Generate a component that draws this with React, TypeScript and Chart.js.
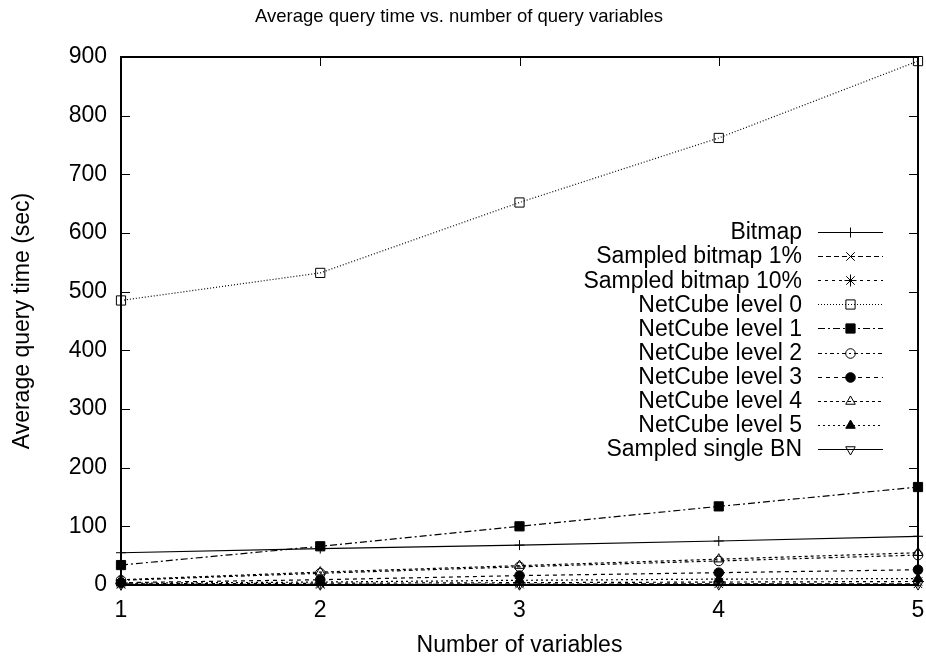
import React, { useEffect, useRef } from 'react';
import { Chart, registerables } from 'chart.js';

Chart.register(...registerables);

// ---- data ----
const xValues = [1, 2, 3, 4, 5];
const xTickLabels = ['1', '2', '3', '4', '5'];
const yTickLabels = ['0', '100', '200', '300', '400', '500', '600', '700', '800', '900'];

const seriesNames = [
  'Bitmap',
  'Sampled bitmap 1%',
  'Sampled bitmap 10%',
  'NetCube level 0',
  'NetCube level 1',
  'NetCube level 2',
  'NetCube level 3',
  'NetCube level 4',
  'NetCube level 5',
  'Sampled single BN',
];

const bitmap = [55, 62, 68, 75, 83];
const sampledBitmap1 = [1, 1, 1.5, 2, 2];
const sampledBitmap10 = [2, 3, 4, 5, 6];
const netCube0 = [485, 532, 652, 762, 893];
const netCube1 = [34, 66, 100, 134, 167];
const netCube2 = [8, 20, 31, 41, 51];
const netCube3 = [4, 9, 16, 21, 26];
const netCube4 = [9, 22, 33, 44, 55];
const netCube5 = [3, 5, 8, 10, 11];
const sampledSingleBN = [0.3, 0.4, 0.5, 0.6, 0.7];

const seriesValues = [
  bitmap, sampledBitmap1, sampledBitmap10, netCube0, netCube1,
  netCube2, netCube3, netCube4, netCube5, sampledSingleBN,
];

// ---- styles ----
const FONT = '"Liberation Sans", Arial, Helvetica, sans-serif';
const FS = 23;
const NONE = 'rgba(0,0,0,0)';

type St = { dash: number[]; point: string; r: number; fill: string; rot?: number };
const styles: St[] = [
  { dash: [], point: 'cross', r: 5, fill: NONE },
  { dash: [5, 3], point: 'crossRot', r: 6, fill: NONE },
  { dash: [3, 4], point: 'star', r: 6, fill: NONE },
  { dash: [1, 2], point: 'rect', r: 6.5, fill: NONE },
  { dash: [7, 3, 2, 3], point: 'rect', r: 6.5, fill: '#000' },
  { dash: [4, 3, 2, 3], point: 'circle', r: 4.8, fill: NONE },
  { dash: [4, 4], point: 'circle', r: 4.8, fill: '#000' },
  { dash: [3, 3], point: 'triangle', r: 5.5, fill: NONE },
  { dash: [2, 3], point: 'triangle', r: 5.5, fill: '#000' },
  { dash: [], point: 'triangle', r: 5.5, fill: NONE, rot: 180 },
];

function drawMarker(ctx: CanvasRenderingContext2D, st: St, x: number, y: number) {
  const r = st.r;
  ctx.save();
  ctx.setLineDash([]);
  ctx.lineWidth = 1;
  ctx.strokeStyle = '#000';
  ctx.fillStyle = st.fill;
  ctx.beginPath();
  let rad = ((st.rot || 0) * Math.PI) / 180;
  switch (st.point) {
    case 'cross':
      ctx.moveTo(x - r, y); ctx.lineTo(x + r, y);
      ctx.moveTo(x, y - r); ctx.lineTo(x, y + r);
      ctx.stroke();
      break;
    case 'crossRot': {
      const d = r * Math.SQRT1_2;
      ctx.moveTo(x - d, y - d); ctx.lineTo(x + d, y + d);
      ctx.moveTo(x - d, y + d); ctx.lineTo(x + d, y - d);
      ctx.stroke();
      break;
    }
    case 'star': {
      const d = r * Math.SQRT1_2;
      ctx.moveTo(x - r, y); ctx.lineTo(x + r, y);
      ctx.moveTo(x, y - r); ctx.lineTo(x, y + r);
      ctx.moveTo(x - d, y - d); ctx.lineTo(x + d, y + d);
      ctx.moveTo(x - d, y + d); ctx.lineTo(x + d, y - d);
      ctx.stroke();
      break;
    }
    case 'rect': {
      const s = r * Math.SQRT1_2;
      ctx.rect(x - s, y - s, 2 * s, 2 * s);
      ctx.fill(); ctx.stroke();
      break;
    }
    case 'circle':
      ctx.arc(x, y, r, 0, Math.PI * 2);
      ctx.fill(); ctx.stroke();
      break;
    case 'triangle':
      for (let i = 0; i < 3; i++) {
        const px = x + Math.sin(rad) * r;
        const py = y - Math.cos(rad) * r;
        if (i === 0) ctx.moveTo(px, py); else ctx.lineTo(px, py);
        rad += (2 * Math.PI) / 3;
      }
      ctx.closePath();
      ctx.fill(); ctx.stroke();
      break;
  }
  ctx.restore();
}

const gnuplotPlugin = {
  id: 'gnuplotLook',
  beforeDatasetsDraw(chart: any) {
    const { ctx, chartArea: a, scales } = chart;
    ctx.save();
    ctx.strokeStyle = '#000';
    ctx.setLineDash([]);
    ctx.lineWidth = 1;
    const tl = 9;
    const ys = scales.y;
    for (let v = 100; v < 900; v += 100) {
      const py = Math.round(ys.getPixelForValue(v)) + 0.5;
      ctx.beginPath();
      ctx.moveTo(a.left, py); ctx.lineTo(a.left + tl, py);
      ctx.moveTo(a.right, py); ctx.lineTo(a.right - tl, py);
      ctx.stroke();
    }
    const xs = scales.x;
    for (let v = 2; v <= 4; v++) {
      const px = Math.round(xs.getPixelForValue(v)) + 0.5;
      ctx.beginPath();
      ctx.moveTo(px, a.bottom); ctx.lineTo(px, a.bottom - tl);
      ctx.moveTo(px, a.top); ctx.lineTo(px, a.top + tl);
      ctx.stroke();
    }
    ctx.lineWidth = 2;
    ctx.strokeRect(a.left, a.top, a.right - a.left, a.bottom - a.top);
    ctx.restore();
  },
  afterDraw(chart: any) {
    const { ctx } = chart;
    ctx.save();
    ctx.font = `${FS}px ${FONT}`;
    ctx.fillStyle = '#000';
    ctx.textAlign = 'right';
    ctx.textBaseline = 'middle';
    seriesNames.forEach((name, i) => {
      const y = 232 + i * 24.1;
      ctx.fillText(name, 802, y + 1);
      const st = styles[i];
      ctx.beginPath();
      ctx.lineWidth = 1.2;
      ctx.strokeStyle = '#000';
      ctx.setLineDash(st.dash);
      ctx.moveTo(818, Math.round(y) + 0.5);
      ctx.lineTo(883, Math.round(y) + 0.5);
      ctx.stroke();
      drawMarker(ctx, st, 850.5, Math.round(y) + 0.5);
    });
    ctx.restore();
  },
};

export default function App() {
  const ref = useRef<HTMLCanvasElement | null>(null);
  useEffect(() => {
    document.body.style.margin = '0';
    if (!ref.current) return;
    const datasets = seriesNames.map((name, i) => ({
      label: name,
      data: xValues.map((x, j) => ({ x, y: seriesValues[i][j] })),
      borderColor: '#000',
      borderWidth: 1.2,
      borderDash: styles[i].dash,
      pointStyle: styles[i].point,
      pointRadius: styles[i].r,
      pointRotation: styles[i].rot || 0,
      pointBackgroundColor: styles[i].fill,
      pointBorderColor: '#000',
      pointBorderWidth: 1,
      backgroundColor: styles[i].fill,
      tension: 0,
      fill: false,
      clip: false as any,
    }));
    const chart = new Chart(ref.current, {
      type: 'line',
      data: { datasets },
      plugins: [gnuplotPlugin],
      options: {
        animation: false,
        responsive: false,
        events: [],
        layout: { padding: { left: 0, right: 8, top: 0, bottom: 0 } },
        plugins: {
          legend: { display: false },
          tooltip: { enabled: false },
          title: {
            display: true,
            text: 'Average query time vs. number of query variables',
            color: '#000',
            font: { family: FONT, size: 18.5, weight: 'normal' },
            padding: { top: 6, bottom: 28.8 },
            fullSize: true,
          },
        },
        scales: {
          x: {
            type: 'linear',
            min: 1,
            max: 5,
            grid: { display: false, drawTicks: false },
            border: { display: false },
            afterFit: (s: any) => { s.height = 75; s.paddingLeft = 0; s.paddingRight = 0; },
            ticks: {
              stepSize: 1,
              color: '#000',
              padding: 12,
              font: { family: FONT, size: FS },
              callback: (v: any) => xTickLabels[xValues.indexOf(Number(v))] ?? '',
              maxRotation: 0,
            },
            title: {
              display: true,
              text: 'Number of variables',
              color: '#000',
              font: { family: FONT, size: FS },
              padding: { top: 0, bottom: 1 },
            },
          },
          y: {
            type: 'linear',
            min: 0,
            max: 900,
            grid: { display: false, drawTicks: false },
            border: { display: false },
            afterFit: (s: any) => { s.width = 121; s.paddingTop = 0; s.paddingBottom = 0; },
            ticks: {
              stepSize: 100,
              color: '#000',
              padding: 14,
              font: { family: FONT, size: FS },
              callback: (v: any) => yTickLabels[Math.round(Number(v) / 100)] ?? '',
            },
            title: {
              display: true,
              text: 'Average query time (sec)',
              color: '#000',
              font: { family: FONT, size: FS },
              padding: { top: 9, bottom: 0 },
            },
          },
        },
      },
    });
    return () => chart.destroy();
  }, []);
  return <canvas ref={ref} width={926} height={660} style={{ display: 'block' }} />;
}
